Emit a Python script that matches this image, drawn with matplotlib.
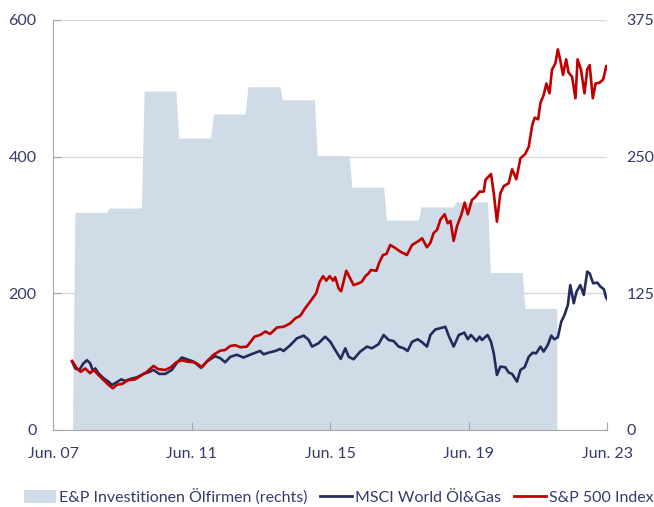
import numpy as np
import matplotlib
matplotlib.use("Agg")
import matplotlib.pyplot as plt
from matplotlib.patches import Patch
from matplotlib.lines import Line2D

plt.rcParams['font.family'] = ['Lato', 'DejaVu Sans']

# E&P investments (right axis), one level per calendar year
invest_years = [2008, 2009, 2010, 2011, 2012, 2013, 2014, 2015, 2016, 2017, 2018, 2019, 2020, 2021]
invest_vals = [199, 203, 310, 267, 289, 314, 302, 251, 222, 192, 204, 208.5, 144, 111]

# MSCI World Oil & Gas (left axis), decimal year / index value
msci_t = [2007.96, 2008.05, 2008.17, 2008.29, 2008.39, 2008.48, 2008.56, 2008.63, 2008.72, 2008.87,
          2009.01, 2009.11, 2009.20, 2009.38, 2009.49, 2009.64, 2009.83,
          2010.02, 2010.17, 2010.31, 2010.48, 2010.65, 2010.84, 2010.99,
          2011.13, 2011.28, 2011.47, 2011.68, 2011.85,
          2012.09, 2012.24, 2012.38, 2012.53, 2012.72, 2012.91,
          2013.10, 2013.25, 2013.39, 2013.49, 2013.63, 2013.83, 2013.97,
          2014.07, 2014.26, 2014.45, 2014.65, 2014.79, 2014.89,
          2015.08, 2015.27, 2015.42, 2015.56, 2015.72, 2015.85, 2015.95,
          2016.09, 2016.28, 2016.48, 2016.62, 2016.81, 2016.96,
          2017.10, 2017.25, 2017.39, 2017.54, 2017.65, 2017.78, 2017.94,
          2018.07, 2018.21, 2018.31, 2018.45, 2018.60, 2018.74, 2018.84, 2018.98,
          2019.13, 2019.29, 2019.39, 2019.48, 2019.64, 2019.73, 2019.80, 2019.96,
          2020.06, 2020.14, 2020.23, 2020.33, 2020.47, 2020.57, 2020.67, 2020.81, 2020.91,
          2021.03, 2021.15, 2021.26, 2021.36, 2021.49, 2021.58, 2021.70, 2021.80, 2021.89, 2021.99,
          2022.09, 2022.18, 2022.28, 2022.35, 2022.45, 2022.53, 2022.64, 2022.74, 2022.84, 2022.91,
          2023.01, 2023.13, 2023.22, 2023.32, 2023.38, 2023.42]
msci_v = [100, 90, 88, 97.6, 102, 97.6, 86.8, 90, 83, 75.6,
          70.7, 66, 68.3, 74, 71.7, 74.6, 77,
          82, 84.4, 87.8, 82, 82, 87.8, 98.5,
          106, 103.4, 100, 91, 100,
          108, 105, 99, 107, 110, 106,
          110, 113, 115.6, 110.7, 113, 115.6, 118.5,
          115.6, 124, 134, 138, 132, 122,
          127, 136.5, 129, 117, 104, 119.5, 107,
          103.4, 114.6, 122, 119.5, 125.4, 139,
          131.7, 130, 122, 119.5, 115.6, 129, 132.7,
          128.3, 122, 139, 147, 149, 151, 137.6, 122,
          139, 142.4, 132.7, 139, 130, 136.5, 131.7, 139,
          129, 112, 80.5, 92.7, 91.7, 84, 82, 70.7, 87.8,
          91.7, 107, 113, 112, 122, 114.6, 124.4, 138, 132.7, 135.6,
          158.5, 168, 183, 212, 185.4, 202.4, 212, 197.6, 231.7, 229,
          214.6, 215.6, 209.8, 206, 194, 191]

# S&P 500 Index (left axis)
spx_t = [2007.96, 2008.10, 2008.21, 2008.34, 2008.48, 2008.58, 2008.72, 2008.87,
         2009.01, 2009.14, 2009.25, 2009.40, 2009.59, 2009.78, 2009.98,
         2010.12, 2010.31, 2010.45, 2010.65, 2010.81, 2010.97,
         2011.13, 2011.28, 2011.47, 2011.56, 2011.71, 2011.85,
         2012.04, 2012.24, 2012.38, 2012.53, 2012.67, 2012.82,
         2013.01, 2013.10, 2013.23, 2013.39, 2013.54, 2013.68, 2013.88,
         2014.07, 2014.26, 2014.41, 2014.55, 2014.69, 2014.84,
         2015.01, 2015.11, 2015.21, 2015.30, 2015.40, 2015.50, 2015.56, 2015.66, 2015.73, 2015.88, 2015.99,
         2016.09, 2016.24, 2016.33, 2016.43, 2016.52, 2016.59, 2016.75, 2016.84, 2016.94,
         2017.04, 2017.15, 2017.30, 2017.44, 2017.63, 2017.78, 2017.97,
         2018.07, 2018.21, 2018.31, 2018.40, 2018.50, 2018.60, 2018.72, 2018.81, 2018.89, 2018.98,
         2019.08, 2019.20, 2019.30, 2019.39, 2019.51, 2019.62, 2019.73, 2019.85, 2019.90,
         2020.06, 2020.14, 2020.23, 2020.33, 2020.43, 2020.57, 2020.67, 2020.79, 2020.91,
         2021.05, 2021.15, 2021.25, 2021.32, 2021.42, 2021.49, 2021.58, 2021.66, 2021.75, 2021.82, 2021.92, 2021.99,
         2022.06, 2022.14, 2022.23, 2022.30, 2022.40, 2022.50, 2022.56, 2022.66, 2022.76, 2022.84, 2022.91,
         2023.00, 2023.08, 2023.20, 2023.30, 2023.39, 2023.42]
spx_v = [101, 90, 85, 90, 83, 88, 80.5, 73,
         66, 61, 66, 67.3, 73, 74, 80.5,
         85, 93.7, 89, 87.8, 91.7, 99,
         102, 100, 99, 97.6, 91.7, 100,
         110, 116, 117, 123, 124, 121,
         122, 128, 136.5, 139, 144, 140.5, 150,
         151, 156, 163.5, 167, 178, 188,
         200, 217, 225, 218.5, 225, 218.5, 223.5, 207, 203, 233, 222,
         212, 214.6, 217, 225, 229, 234, 233, 246, 256,
         257.6, 270.7, 266, 261, 256, 270.7, 276.6,
         280.5, 267.3, 274, 288, 292.7, 308, 315.6, 302.4, 306, 276.6,
         298.5, 314.6, 332.7, 315.6, 336.6, 341.5, 348.8, 348.8, 366,
         374.6, 346.4, 304.8, 346.4, 357, 361, 381.5, 366.9, 397.6,
         404, 414.6, 446, 457, 454.6, 479, 490, 507, 492.7, 527, 536.6, 557,
         541.5, 519.5, 542.4, 523, 517, 485.4, 542.4, 527, 492.7, 527.8, 534,
         485.4, 507, 508.3, 513, 532.7, 532.7]

tick_pos = [2007.417, 2011.417, 2015.417, 2019.417, 2023.417]
tick_labels = ['Jun. 07', 'Jun. 11', 'Jun. 15', 'Jun. 19', 'Jun. 23']

AREA = '#cfdce7'
NAVY = '#252a5c'
RED = '#c00000'
TXT = '#363a6b'
GRID = '#d9d9d9'
SPINE = '#a6a6a6'

# step shape from the yearly levels
area_x = [2007.97]
area_y = [0]
for yr, v in zip(invest_years, invest_vals):
    area_x += [yr + 0.04, yr + 0.96]
    area_y += [v, v]
area_x.append(area_x[-1])
area_y.append(0)

fig = plt.figure(figsize=(6.54, 5.07), dpi=100)
ax = fig.add_axes([0.0815, 0.152, 0.847, 0.8086])
ax2 = ax.twinx()
ax.set_zorder(ax2.get_zorder() + 1)
ax.patch.set_visible(False)

ax2.fill_between(area_x, area_y, 0, color=AREA, lw=0, zorder=2)
ax2.set_ylim(0, 375)
ax2.set_yticks([0, 125, 250, 375])
ax2.grid(True, color=GRID, lw=1, zorder=0)
ax2.set_axisbelow(True)

ax.plot(msci_t, msci_v, color=NAVY, lw=1.9, zorder=3)
ax.plot(spx_t, spx_v, color=RED, lw=1.9, zorder=4)
ax.set_ylim(0, 600)
ax.set_yticks([0, 200, 400, 600])
ax.set_xlim(tick_pos[0], tick_pos[-1])
ax.set_xticks(tick_pos)
ax.set_xticklabels(tick_labels)

for a in (ax, ax2):
    for s in a.spines.values():
        s.set_visible(False)
ax.spines['left'].set_visible(True)
ax.spines['bottom'].set_visible(True)
ax.spines['left'].set_color(SPINE)
ax.spines['bottom'].set_color(SPINE)

FS = 11.5
ax.tick_params(axis='both', direction='in', length=6, color=SPINE, labelsize=FS, labelcolor=TXT)
ax.tick_params(axis='y', pad=12)
ax.tick_params(axis='x', pad=12)
ax2.tick_params(axis='y', length=0, pad=14, labelsize=FS, labelcolor=TXT)

handles = [Patch(facecolor=AREA, edgecolor='none'),
           Line2D([], [], color=NAVY, lw=2),
           Line2D([], [], color=RED, lw=2)]
labels = ['E&P Investitionen Ölfirmen (rechts)', 'MSCI World Öl&Gas', 'S&P 500 Index']
fig.legend(handles, labels, loc='center', bbox_to_anchor=(0.518, 0.02), ncol=3, frameon=False,
           fontsize=FS, handlelength=2.0, handleheight=0.8, handletextpad=0.2, columnspacing=0.8,
           labelcolor=TXT)

fig.savefig('out.png', dpi=100)
